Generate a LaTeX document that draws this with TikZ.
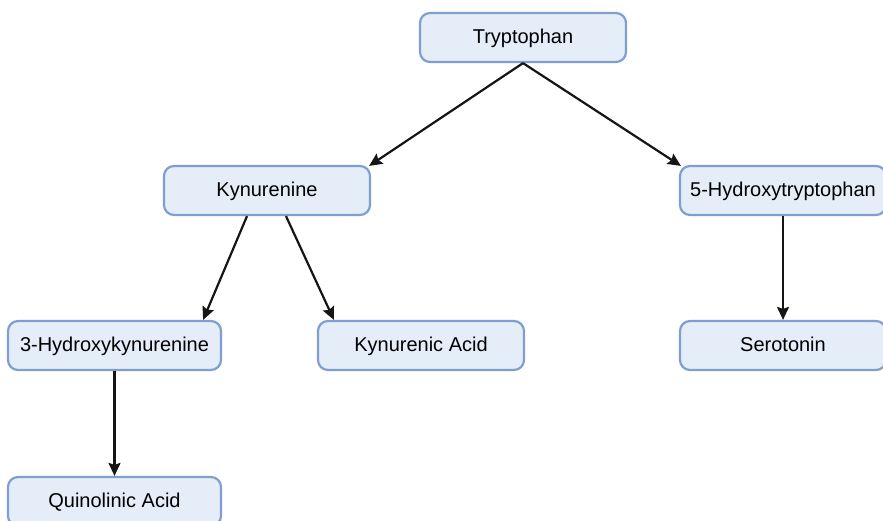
\documentclass[tikz,border=0pt]{standalone}
\usepackage{fontspec}
\setmainfont{Liberation Sans}
\usetikzlibrary{arrows.meta}
\definecolor{boxfill}{HTML}{E4EDF8}
\definecolor{boxline}{HTML}{7F9FD3}
\definecolor{arrowcol}{HTML}{151515}
\begin{document}
\begin{tikzpicture}[x=1pt,y=-1pt,
  box/.style={draw=boxline, fill=boxfill, line width=2.2pt, rounded corners=10pt,
    minimum height=49pt, inner sep=0pt, text height=15pt, text depth=3pt,
    font=\fontsize{20}{23}\selectfont, text=black},
  conn/.style={draw=arrowcol, line width=2.2pt, -{Stealth[length=13pt,width=12pt,inset=2pt]}}]
\useasboundingbox (0,0) rectangle (883,520);
\clip (0,0) rectangle (883,520);
\node[box, minimum width=206pt] (tryp) at (523,37.5) {Tryptophan};
\node[box, minimum width=206pt] (kyn) at (267,190.5) {Kynurenine};
\node[box, minimum width=206pt] (htp) at (783,190.5) {5-Hydroxytryptophan};
\node[box, minimum width=213pt] (hk) at (114.5,345.5) {3-Hydroxykynurenine};
\node[box, minimum width=206pt] (ka) at (421,345.5) {Kynurenic Acid};
\node[box, minimum width=206pt] (ser) at (783,345.5) {Serotonin};
\node[box, minimum width=213pt] (qa) at (114.5,501.5) {Quinolinic Acid};
\draw[conn] (tryp.south) -- ([xshift=-2pt,yshift=-1pt]kyn.north east);
\draw[conn] (tryp.south) -- ([xshift=2pt,yshift=-1pt]htp.north west);
\draw[conn] ([xshift=-20pt]kyn.south) -- ([xshift=-19pt]hk.north east);
\draw[conn] ([xshift=19pt]kyn.south) -- ([xshift=17pt]ka.north west);
\draw[conn] (htp.south) -- (ser.north);
\draw[conn] (hk.south) -- (qa.north);
\end{tikzpicture}
\end{document}
